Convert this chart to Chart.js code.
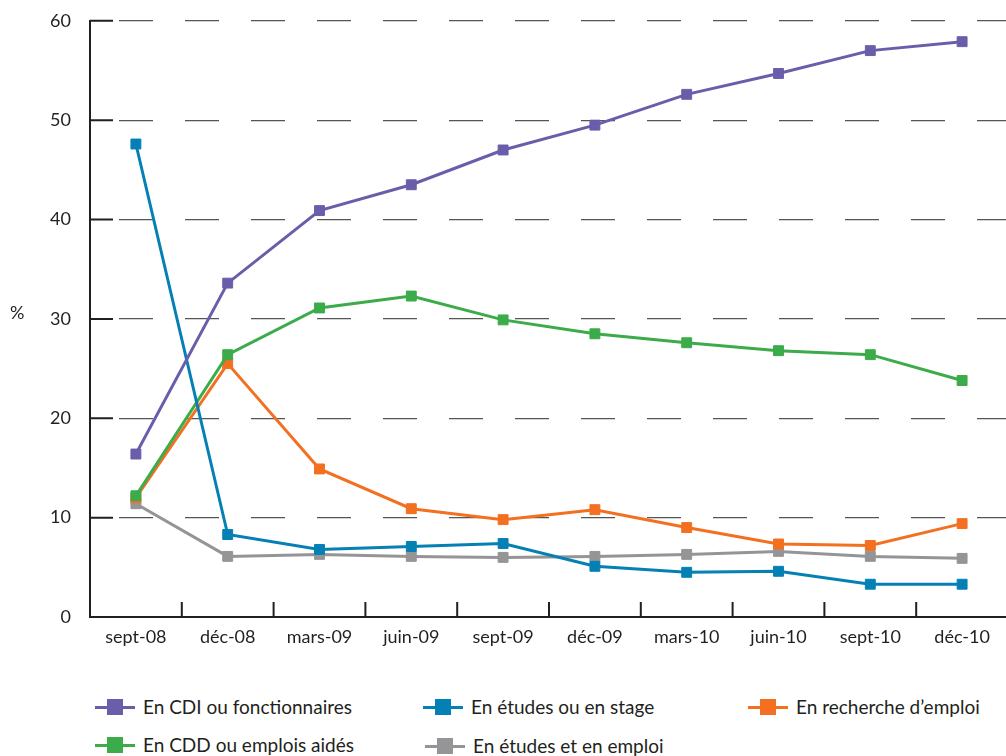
<!DOCTYPE html>
<html>
<head>
<meta charset="utf-8">
<script src="https://cdn.jsdelivr.net/npm/chart.js@4.4.1/dist/chart.umd.min.js"></script>
<style>
  html, body { margin: 0; padding: 0; background: #fff; overflow: hidden; }
  body { width: 1006px; height: 756px; position: relative; font-family: Lato, "Open Sans", sans-serif; color: #231f20; }
  #wrap { position: absolute; left: 0; top: -9px; width: 1016px; height: 669px; }
  #pct { position: absolute; left: 10px; top: 301px; font-size: 18px; }
  .leg { position: absolute; font-size: 19px; display: flex; align-items: center; white-space: nowrap; }
  .sym { position: relative; width: 40px; height: 16px; margin-right: 8px; }
  .sym .ln { position: absolute; left: 0; right: 0; top: 7px; height: 3px; }
  .sym .sq { position: absolute; left: 12px; top: 0; width: 16px; height: 16px; }
</style>
</head>
<body>
<div id="wrap"><canvas id="graficaParcours"></canvas></div>
<div id="pct">%</div>
<div id="legende"></div>
<script>
// catégories (trimestres)
const mois = ['sept-08', 'déc-08', 'mars-09', 'juin-09', 'sept-09', 'déc-09', 'mars-10', 'juin-10', 'sept-10', 'déc-10'];

// séries en %
const cdi      = [16.4, 33.6, 40.9, 43.5, 47.0, 49.5, 52.6, 54.7, 57.0, 57.9];
const cdd      = [12.2, 26.4, 31.1, 32.3, 29.9, 28.5, 27.6, 26.8, 26.4, 23.8];
const stage    = [47.6, 8.3, 6.8, 7.1, 7.4, 5.1, 4.5, 4.6, 3.3, 3.3];
const etEmploi = [11.4, 6.1, 6.3, 6.1, 6.0, 6.1, 6.3, 6.6, 6.1, 5.9];
const recherche = [12.0, 25.5, 14.9, 10.9, 9.8, 10.8, 9.0, 7.35, 7.2, 9.4];

const yTicks = [0, 10, 20, 30, 40, 50, 60];

const series = [
  { label: 'En CDI ou fonctionnaires', data: cdi, color: '#6a5eab', order: 0 },
  { label: 'En CDD ou emplois aidés', data: cdd, color: '#3cab4a', order: 2 },
  { label: 'En études ou en stage', data: stage, color: '#0580b5', order: 1 },
  { label: 'En études et en emploi', data: etEmploi, color: '#959598', order: 4 },
  { label: 'En recherche d’emploi', data: recherche, color: '#f37021', order: 3 }
];

// petits traits des axes tournés vers l'intérieur
const traitsInterieurs = {
  id: 'traitsInterieurs',
  afterDatasetsDraw(chart) {
    const { ctx, chartArea, scales } = chart;
    const x = scales.x, y = scales.y;
    ctx.save();
    ctx.strokeStyle = '#231f20';
    ctx.lineWidth = 2;
    ctx.beginPath();
    yTicks.forEach(v => {
      const py = y.getPixelForValue(v);
      ctx.moveTo(chartArea.left, py);
      ctx.lineTo(chartArea.left + 23, py);
    });
    const demi = (x.getPixelForValue(1) - x.getPixelForValue(0)) / 2;
    for (let i = 0; i < mois.length; i++) {
      const px = x.getPixelForValue(i) + demi;
      ctx.moveTo(px, chartArea.bottom);
      ctx.lineTo(px, chartArea.bottom - 15);
    }
    ctx.stroke();
    ctx.restore();
  }
};

const ctx = document.getElementById('graficaParcours').getContext('2d');
new Chart(ctx, {
  type: 'line',
  data: {
    labels: mois,
    datasets: series.map(s => ({
      label: s.label,
      data: s.data,
      order: s.order,
      borderColor: s.color,
      backgroundColor: s.color,
      pointBackgroundColor: s.color,
      pointBorderColor: s.color,
      pointStyle: 'rect',
      pointRadius: 7,
      pointBorderWidth: 1,
      borderWidth: 3,
      tension: 0,
      fill: false
    }))
  },
  options: {
    responsive: true,
    maintainAspectRatio: false,
    animation: false,
    layout: { padding: { top: 10, right: 0, bottom: 0, left: 0 } },
    plugins: {
      legend: { display: false },
      tooltip: { enabled: false }
    },
    scales: {
      x: {
        offset: true,
        afterFit: scale => { scale.height = 43; },
        grid: { display: false },
        border: { display: true, color: '#231f20', width: 2 },
        ticks: { color: '#231f20', font: { family: 'Lato', size: 18 }, padding: 1, maxRotation: 0 }
      },
      y: {
        min: 0,
        max: 60,
        afterFit: scale => { scale.width = 90; },
        afterBuildTicks: scale => { scale.ticks = yTicks.map(v => ({ value: v })); },
        grid: { color: '#555', lineWidth: 1.3, drawTicks: false },
        border: { display: true, color: '#231f20', width: 2, dash: [34, 32], dashOffset: 38 },
        ticks: { color: '#231f20', font: { family: 'Lato', size: 18 }, padding: 19 }
      }
    }
  },
  plugins: [traitsInterieurs]
});

// légende en html, trois colonnes comme l'original
const placeLegende = [
  [95, 695],   // CDI
  [95, 733],   // CDD
  [423, 695],  // études ou stage
  [425, 734],  // études et emploi
  [748, 695]   // recherche
];
const legende = document.getElementById('legende');
series.forEach((s, i) => {
  const d = document.createElement('div');
  d.className = 'leg';
  d.style.left = placeLegende[i][0] + 'px';
  d.style.top = placeLegende[i][1] + 'px';
  d.innerHTML = '<span class="sym"><span class="ln" style="background:' + s.color + '"></span>' +
    '<span class="sq" style="background:' + s.color + '"></span></span>' + s.label;
  legende.appendChild(d);
});
</script>
</body>
</html>
